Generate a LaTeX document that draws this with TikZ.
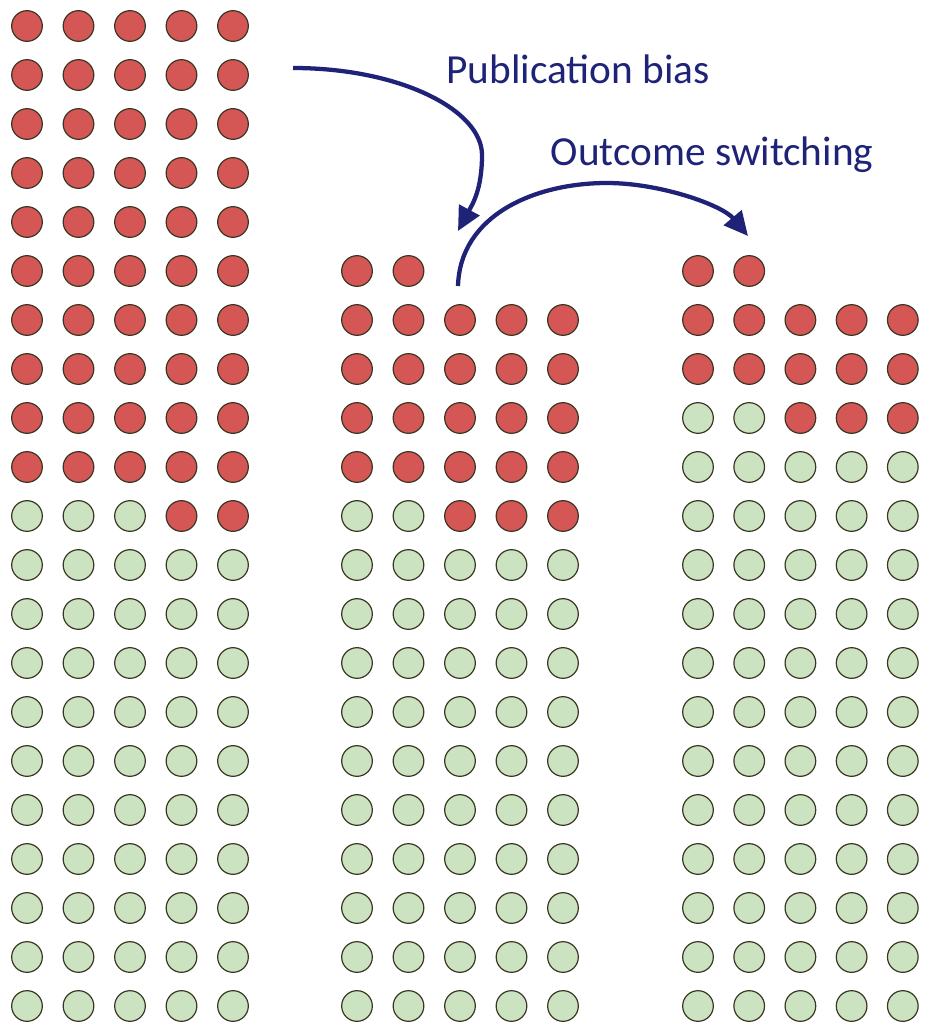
\documentclass[tikz,border=0pt]{standalone}
\usepackage{fontspec}
\setmainfont{Carlito}
\usetikzlibrary{arrows.meta}

\definecolor{dotred}{RGB}{212,87,86}
\definecolor{dotgreen}{RGB}{203,227,192}
\definecolor{dotline}{RGB}{58,54,36}
\definecolor{navy}{RGB}{31,35,120}

\begin{document}
\begin{tikzpicture}[x=0.75pt, y=-0.75pt,
    ball/.style = {circle, draw=dotline, line width=0.9pt,
      minimum size=23pt, inner sep=0pt},
    redball/.style = {ball, fill=dotred},
    greenball/.style = {ball, fill=dotgreen},
    tag/.style = {text=navy, inner sep=0pt,
      font=\fontsize{31}{36}\selectfont},
    flowarrow/.style = {draw=navy, line width=3.2pt,
      -{Triangle[length=18pt, width=17pt]}}]
  \useasboundingbox (0,0) rectangle (924,1027);

  % all trials
  \foreach \r in {0,...,20}
    \foreach \c in {0,...,4} {
      \pgfmathtruncatemacro\isred{(\r<10) || (\r==10 && \c>2)}
      \ifnum\isred=1 \def\kind{redball}\else\def\kind{greenball}\fi
      \node[\kind] (L-\r-\c) at (27+51.5*\c, 26+49*\r) {};
    }

  % published trials
  \foreach \r in {5,...,20}
    \foreach \c in {0,...,4} {
      \pgfmathtruncatemacro\shown{(\r>5) || (\c<2)}
      \pgfmathtruncatemacro\isred{(\r<10) || (\r==10 && \c>1)}
      \ifnum\isred=1 \def\kind{redball}\else\def\kind{greenball}\fi
      \ifnum\shown=1
        \node[\kind] (M-\r-\c) at (357+51.5*\c, 26+49*\r) {};
      \fi
    }

  % reported outcomes
  \foreach \r in {5,...,20}
    \foreach \c in {0,...,4} {
      \pgfmathtruncatemacro\shown{(\r>5) || (\c<2)}
      \pgfmathtruncatemacro\isred{(\r<8) || (\r==8 && \c>1)}
      \ifnum\isred=1 \def\kind{redball}\else\def\kind{greenball}\fi
      \ifnum\shown=1
        \node[\kind] (R-\r-\c) at (698+51.2*\c, 26+49*\r) {};
      \fi
    }

  % arrows
  \node[tag] (pubtext) at (578,69) {Publication bias};
  \node[tag] (switchtext) at (712,155) {Outcome switching};
  \coordinate (pubstart) at (293,68);
  \coordinate (pubend) at (458,231);
  \coordinate (switchstart) at (458,286);
  \coordinate (switchend) at (748,236);
  \draw[flowarrow] (pubstart) .. controls (400,68) and (482,110) .. (482,155)
    .. controls (482,190) and (472,205) .. (pubend);
  \draw[flowarrow] (switchstart) .. controls (460,215) and (535,183) .. (607,183)
    .. controls (660,183) and (722,205) .. (switchend);
\end{tikzpicture}
\end{document}
